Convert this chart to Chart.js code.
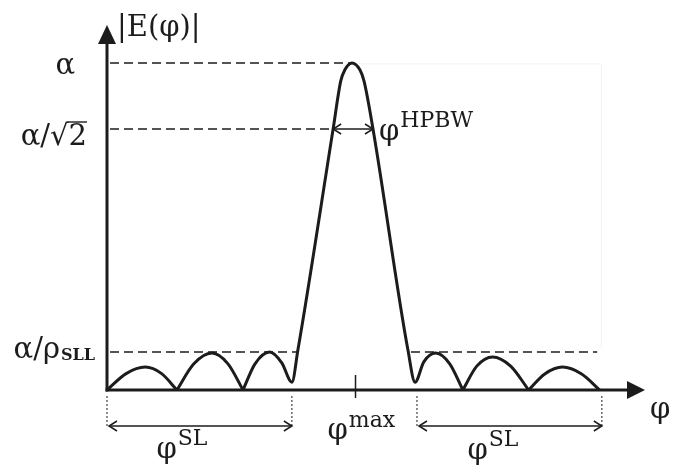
<!DOCTYPE html>
<html>
<head>
<meta charset="utf-8">
<script src="https://cdn.jsdelivr.net/npm/chart.js@4.4.0/dist/chart.umd.min.js"></script>
<style>
html, body { margin: 0; padding: 0; background: #fff; }
#wrap { width: 673px; height: 468px; }
</style>
</head>
<body>
<div id="wrap"><canvas id="patternChart" width="673" height="468"></canvas></div>
<script>
// |E(phi)| pattern, phi in degrees, amplitude normalised so alpha = 1
// outer lobes are separate lists so their nulls stay sharp
const leftLobes = [
    [[0, 0], [7, 0.05], [14, 0.07], [20, 0.05], [25.6, 0]],
    [[25.6, 0], [31.8, 0.08], [38.4, 0.113], [44.3, 0.08], [49.8, 0]]
];
// main lobe together with its first side lobes (rounded dips)
const mainLobe = [
    [49.8, 0], [54.2, 0.08], [59.6, 0.116], [64, 0.083], [67.7, 0.024],
    [69.9, 0.122], [82.8, 0.798], [85.6, 0.945], [87.1, 0.979], [89.7, 1],
    [92.6, 0.979], [94.1, 0.945], [97.4, 0.798], [110.2, 0.122], [112.8, 0.024],
    [116, 0.086], [120.4, 0.113], [125.5, 0.08], [130.3, 0]
];
const rightLobes = [
    [[130.3, 0], [135.4, 0.073], [141.2, 0.101], [147.8, 0.073], [154.4, 0]],
    [[154.4, 0], [160.3, 0.049], [166.8, 0.07], [173.8, 0.049], [180.4, 0]]
];

// levels marked on the vertical axis: alpha, alpha/sqrt2, alpha/rho_SLL
const levelValues = [1, 0.798, 0.116];
const peakPhi = 89.7;
const phiMaxTick = 91;
const hpbwRange = [82.8, 97.4];
const sllLineRanges = [[0, 69.8], [110.2, 179.5]];
const sideLobeRanges = [[0, 67.7], [113.5, 181.2]];

const INK = '#1c1c1c';
const SERIF = '"DejaVu Serif", "Liberation Serif", serif';

function line(ctx, x1, y1, x2, y2) {
    ctx.beginPath();
    ctx.moveTo(x1, y1);
    ctx.lineTo(x2, y2);
    ctx.stroke();
}

function chevron(ctx, x, y, dir) {
    // open arrow head, dir = -1 points left, 1 points right
    ctx.beginPath();
    ctx.moveTo(x - dir * 8, y - 5);
    ctx.lineTo(x, y);
    ctx.lineTo(x - dir * 8, y + 5);
    ctx.stroke();
}

function doubleArrow(ctx, xa, xb, y) {
    line(ctx, xa + 1, y, xb - 1, y);
    chevron(ctx, xa, y, -1);
    chevron(ctx, xb, y, 1);
}

// base text with a raised (or lowered) small part, x = left edge, y = baseline
function scriptText(ctx, base, small, x, y, baseSize, smallFont, shift) {
    ctx.font = baseSize + 'px ' + SERIF;
    ctx.textAlign = 'left';
    ctx.textBaseline = 'alphabetic';
    ctx.fillText(base, x, y);
    const w = ctx.measureText(base).width;
    ctx.font = smallFont;
    ctx.fillText(small, x + w + 1, y + shift);
    return w + 1 + ctx.measureText(small).width;
}

const diagramPlugin = {
    id: 'diagram',
    beforeDatasetsDraw(chart) {
        const { ctx, scales: { x, y } } = chart;
        const x0 = x.getPixelForValue(0);
        ctx.save();

        // very faint box left over at the top right
        ctx.strokeStyle = '#f3f3f3';
        ctx.lineWidth = 1;
        const yTop = y.getPixelForValue(levelValues[0]) + 1;
        line(ctx, x.getPixelForValue(peakPhi) + 5, yTop, x.getPixelForValue(181), yTop);
        line(ctx, x.getPixelForValue(181), yTop, x.getPixelForValue(181), y.getPixelForValue(levelValues[2]) - 3);

        ctx.strokeStyle = INK;
        ctx.lineWidth = 1.5;
        ctx.setLineDash([9, 5]);
        // alpha level up to the peak
        const ya = y.getPixelForValue(levelValues[0]);
        line(ctx, x0 + 3, ya, x.getPixelForValue(peakPhi), ya);
        // half power level up to the main lobe
        const yh = y.getPixelForValue(levelValues[1]);
        line(ctx, x0 + 3, yh, x.getPixelForValue(hpbwRange[0]), yh);
        // side lobe level, both sides
        const ys = y.getPixelForValue(levelValues[2]);
        sllLineRanges.forEach(([a, b]) => line(ctx, x.getPixelForValue(a) + 3, ys, x.getPixelForValue(b), ys));

        // dotted drop lines for the side lobe regions
        ctx.lineWidth = 1;
        ctx.setLineDash([2, 2]);
        const y0 = y.getPixelForValue(0);
        sideLobeRanges.forEach(([a, b]) => {
            [a, b].forEach(v => line(ctx, x.getPixelForValue(v), y0 + 6, x.getPixelForValue(v), y0 + 38));
        });
        ctx.restore();
    },
    afterDatasetsDraw(chart) {
        const { ctx, scales: { x, y } } = chart;
        const x0 = x.getPixelForValue(0);
        const y0 = y.getPixelForValue(0);
        const right = chart.chartArea.right;
        const top = chart.chartArea.top;
        ctx.save();
        ctx.strokeStyle = INK;
        ctx.fillStyle = INK;

        // axes with solid arrow heads
        ctx.lineWidth = 3;
        line(ctx, x0, y0 + 1.5, x0, top + 16);
        line(ctx, x0 - 1.5, y0, right - 16, y0);
        ctx.beginPath();
        ctx.moveTo(x0, top);
        ctx.lineTo(x0 - 9, top + 19);
        ctx.lineTo(x0 + 9, top + 19);
        ctx.closePath();
        ctx.fill();
        ctx.beginPath();
        ctx.moveTo(right, y0);
        ctx.lineTo(right - 18, y0 - 9);
        ctx.lineTo(right - 18, y0 + 9);
        ctx.closePath();
        ctx.fill();

        // phi max tick
        ctx.lineWidth = 1.5;
        const xm = x.getPixelForValue(phiMaxTick);
        line(ctx, xm, y0 - 15, xm, y0 + 8);

        // HPBW arrow
        const yh = y.getPixelForValue(levelValues[1]);
        doubleArrow(ctx, x.getPixelForValue(hpbwRange[0]), x.getPixelForValue(hpbwRange[1]), yh);

        // side lobe width arrows
        const yArr = y0 + 36;
        sideLobeRanges.forEach(([a, b]) => doubleArrow(ctx, x.getPixelForValue(a) + 2, x.getPixelForValue(b), yArr));

        // labels
        const big = '29px ' + SERIF;
        const sup = '22px ' + SERIF;
        ctx.font = big;
        ctx.textBaseline = 'alphabetic';
        ctx.textAlign = 'left';
        ctx.fillText('|E(φ)|', x0 + 10, top + 11);

        ctx.textAlign = 'right';
        ctx.fillText('α', x0 - 32, y.getPixelForValue(levelValues[0]) + 11);

        // alpha / sqrt 2 with the bar over the 2
        const ys2 = yh + 16;
        ctx.textAlign = 'left';
        const w2 = ctx.measureText('2').width;
        const wAll = ctx.measureText('α/√2').width;
        const xs = x0 - 20 - wAll;
        ctx.fillText('α/√2', xs, ys2);
        ctx.lineWidth = 1.4;
        line(ctx, xs + wAll - w2 - 1, ys2 - 23, xs + wAll, ys2 - 23);

        // alpha / rho_SLL
        const subFont = 'bold 16px ' + SERIF;
        ctx.font = big;
        const wr = ctx.measureText('α/ρ').width;
        ctx.font = subFont;
        const wsll = ctx.measureText('SLL').width;
        scriptText(ctx, 'α/ρ', 'SLL', x0 - 12 - wr - 1 - wsll, y.getPixelForValue(levelValues[2]) + 6, 29, subFont, 2);

        scriptText(ctx, 'φ', 'HPBW', x.getPixelForValue(hpbwRange[1]) + 6, yh + 11, 29, sup, -13);
        scriptText(ctx, 'φ', 'max', xm - 28, y0 + 49, 29, sup, -12);
        ctx.font = big;
        ctx.fillText('φ', right + 5, y0 + 28);

        const sl = sideLobeRanges.map(([a, b]) => (x.getPixelForValue(a) + x.getPixelForValue(b)) / 2);
        scriptText(ctx, 'φ', 'SL', sl[0] - 43, y0 + 68, 29, sup, -13);
        scriptText(ctx, 'φ', 'SL', sl[1] - 42, y0 + 69, 29, sup, -13);
        ctx.restore();
    }
};

const lobeList = [...leftLobes, mainLobe, ...rightLobes];
const datasets = lobeList.map(points => ({
    data: points.map(([phi, e]) => ({ x: phi, y: e })),
    borderColor: INK,
    borderWidth: 3,
    pointRadius: 0,
    cubicInterpolationMode: 'monotone',
    fill: false,
    clip: false
}));

new Chart(document.getElementById('patternChart').getContext('2d'), {
    type: 'line',
    data: { datasets },
    options: {
        responsive: false,
        animation: false,
        devicePixelRatio: 1,
        layout: { padding: { left: 107, right: 28, top: 25, bottom: 78 } },
        plugins: {
            legend: { display: false },
            tooltip: { enabled: false }
        },
        scales: {
            x: { type: 'linear', min: 0, max: 197, display: false },
            y: { type: 'linear', min: 0, max: 1.116, display: false }
        }
    },
    plugins: [diagramPlugin]
});
</script>
</body>
</html>
